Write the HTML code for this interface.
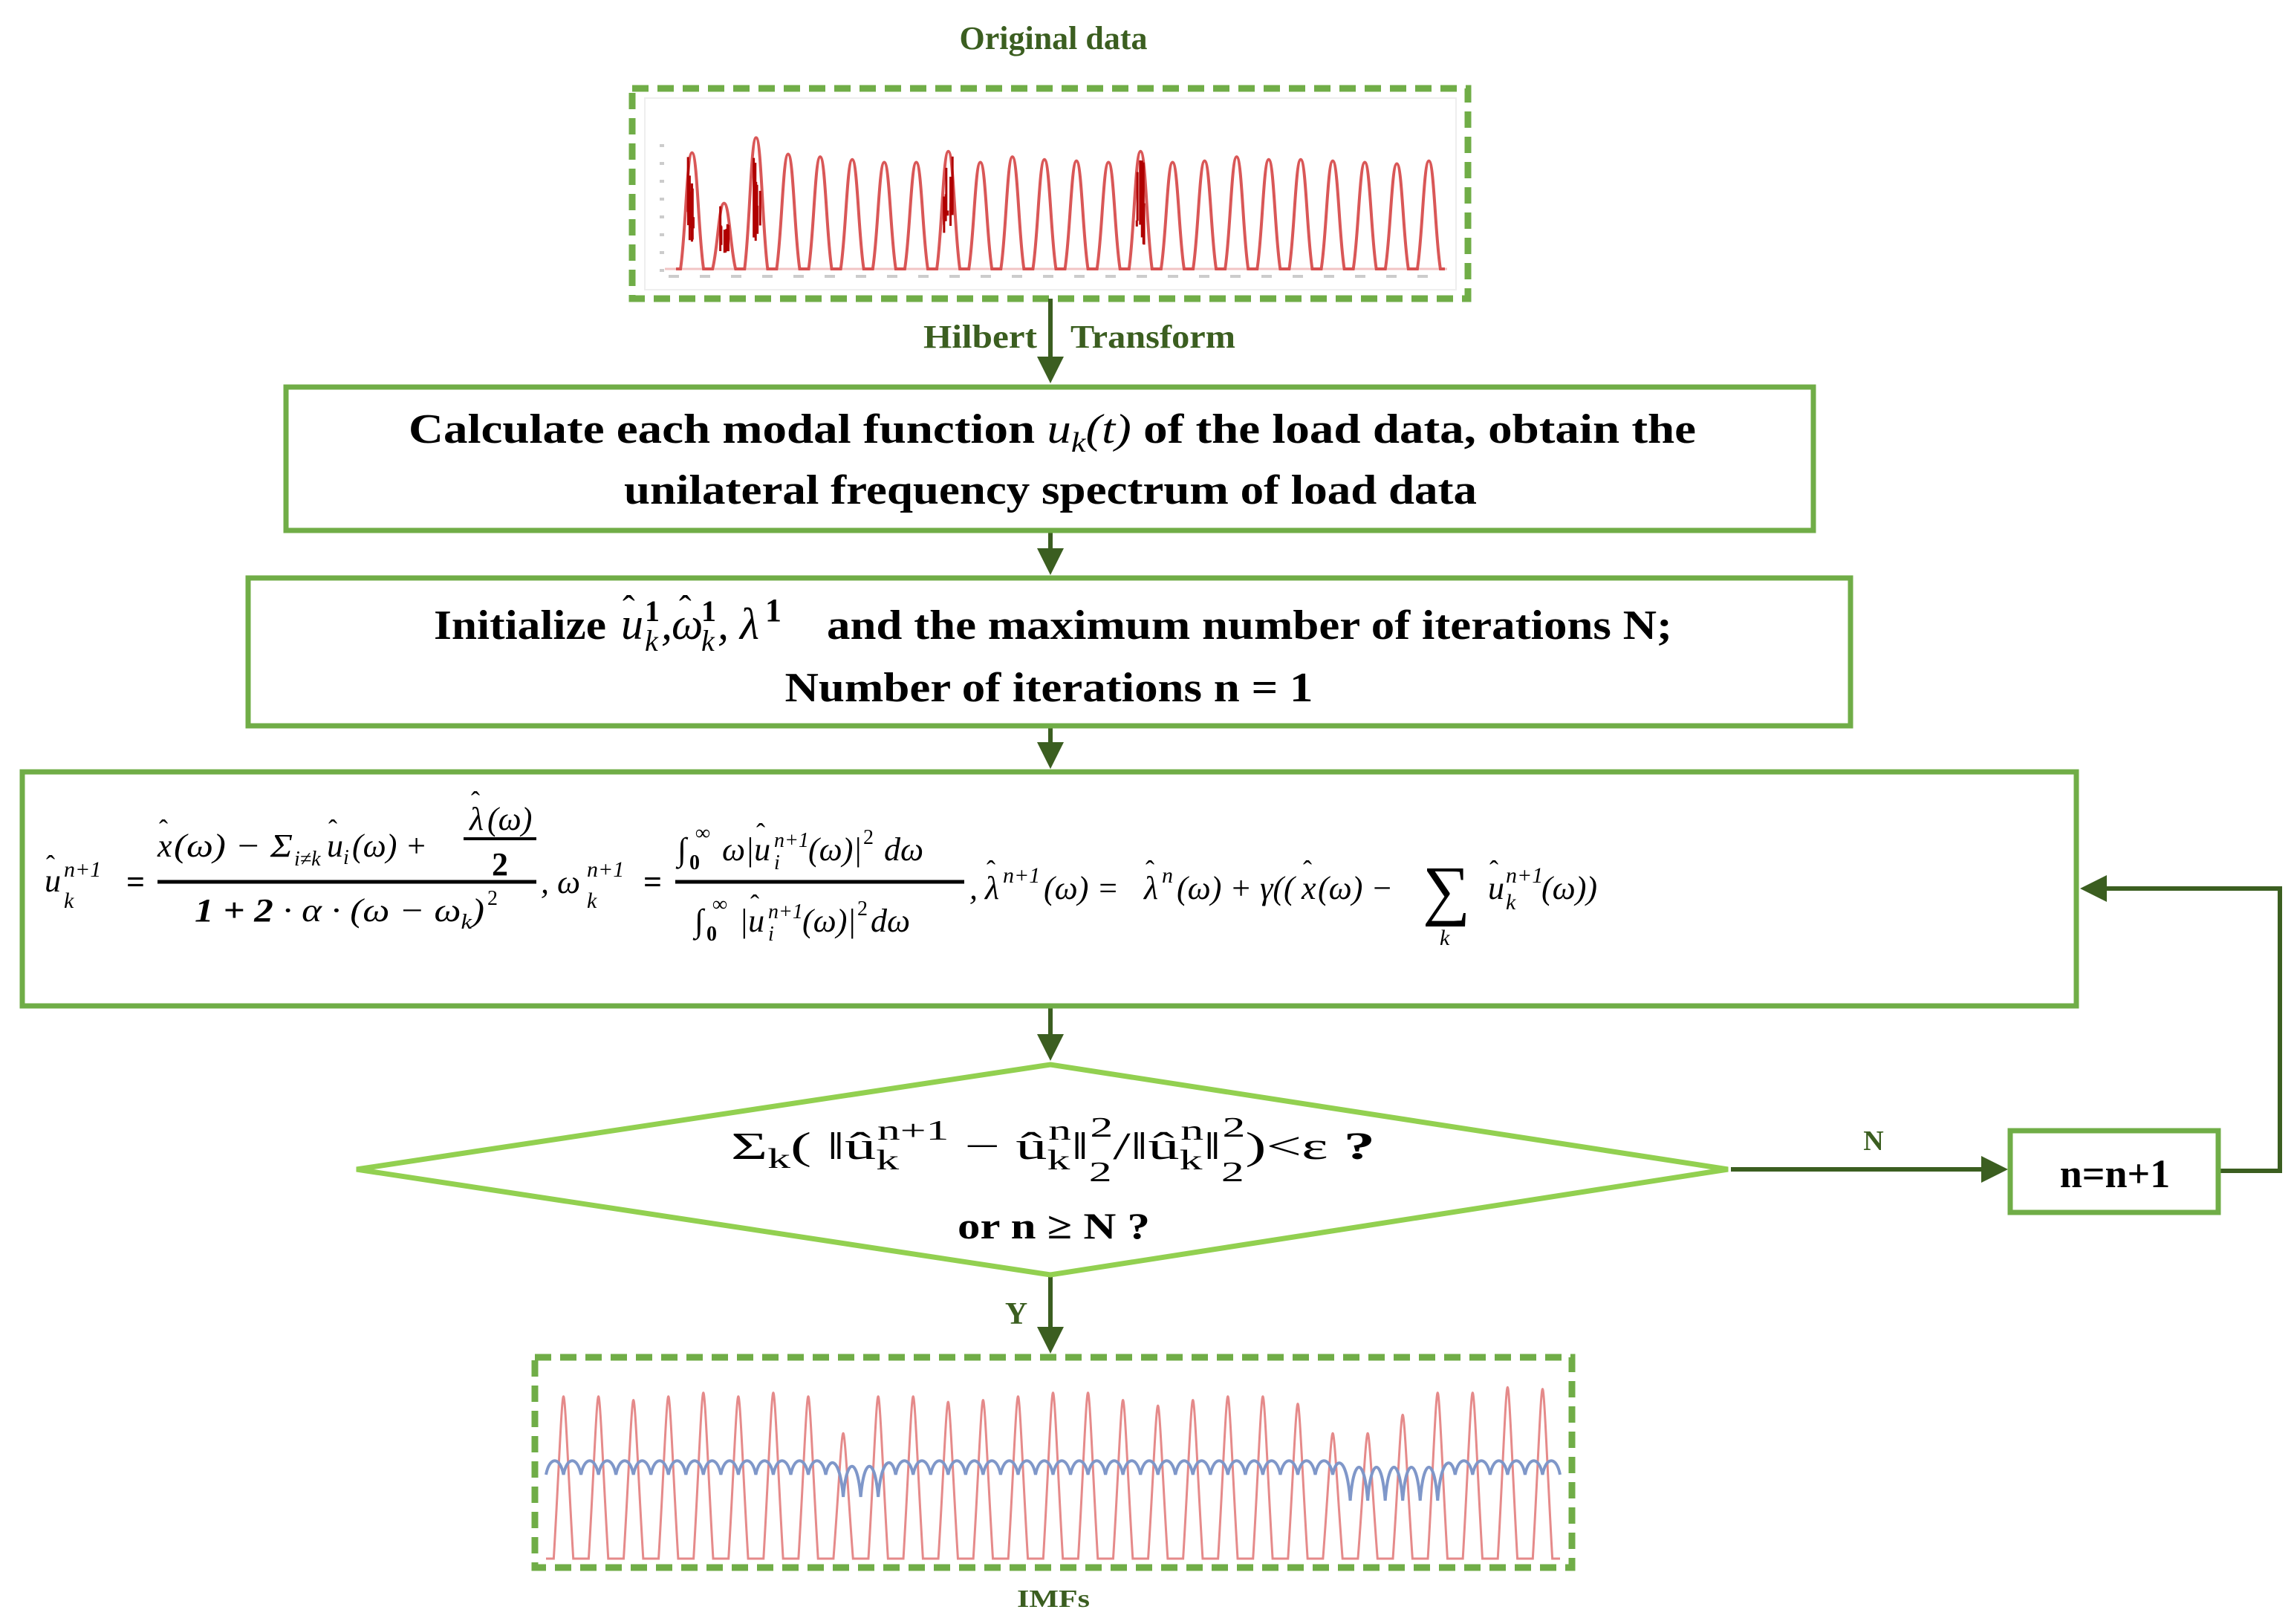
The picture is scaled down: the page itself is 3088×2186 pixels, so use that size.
<!DOCTYPE html>
<html><head><meta charset="utf-8"><style>
html,body{margin:0;padding:0;background:#fff;}
svg{display:block;}
.t{font-family:"Liberation Serif",serif;font-weight:bold;fill:#000;}
.g{font-family:"Liberation Serif",serif;font-weight:bold;fill:#3b5e20;}
.m{font-family:"Liberation Serif",serif;font-style:italic;fill:#000;}
.r{font-family:"Liberation Serif",serif;fill:#000;}
</style></head><body>
<svg id="s" width="3088" height="2186" viewBox="0 0 3088 2186" xmlns="http://www.w3.org/2000/svg">
<defs>
<marker id="a" markerWidth="6" markerHeight="6" refX="5" refY="3" orient="auto" markerUnits="strokeWidth">
<path d="M0,0 L6,3 L0,6 z" fill="#3b5e20"/></marker>
</defs>
<rect width="3088" height="2186" fill="#fff"/>

<text class="g" x="1418" y="66" font-size="44" text-anchor="middle">Original data</text>

<rect x="851" y="119" width="1125" height="283" fill="#fff" stroke="#70ad47" stroke-width="9" stroke-dasharray="22,12"/>
<g id="top"></g>

<g stroke="#3b5e20" stroke-width="6" fill="none">
<line x1="1414" y1="402" x2="1414" y2="510" marker-end="url(#a)"/>
<line x1="1414" y1="715" x2="1414" y2="768" marker-end="url(#a)"/>
<line x1="1414" y1="978" x2="1414" y2="1029" marker-end="url(#a)"/>
<line x1="1414" y1="1356" x2="1414" y2="1422" marker-end="url(#a)"/>
<line x1="1414" y1="1719" x2="1414" y2="1816" marker-end="url(#a)"/>
<line x1="2330" y1="1574" x2="2697" y2="1574" marker-end="url(#a)"/>
<polyline points="2988,1576 3069,1576 3069,1196 2806,1196" marker-end="url(#a)"/>
</g>

<text class="g" x="1243" y="468" font-size="44" textLength="153" lengthAdjust="spacingAndGlyphs">Hilbert</text>
<text class="g" x="1441" y="468" font-size="44" textLength="222" lengthAdjust="spacingAndGlyphs">Transform</text>

<rect x="385" y="521" width="2056" height="193" fill="#fff" stroke="#70ad47" stroke-width="7"/>
<text class="t" x="550" y="596" font-size="56" textLength="1733" lengthAdjust="spacingAndGlyphs">Calculate each modal function <tspan class="m" font-weight="normal">u<tspan font-size="38" dy="12">k</tspan><tspan dy="-12">(t)</tspan></tspan> of the load data, obtain the</text>
<text class="t" x="1414" y="678" font-size="56" text-anchor="middle" textLength="1148" lengthAdjust="spacingAndGlyphs">unilateral frequency spectrum of load data</text>

<rect x="334" y="778" width="2157" height="199" fill="#fff" stroke="#70ad47" stroke-width="7"/>
<text class="t" x="584" y="860" font-size="56" textLength="232" lengthAdjust="spacingAndGlyphs">Initialize</text>
<g font-size="60">
<text class="m" x="836" y="860">u</text><text class="r" x="838" y="836" font-size="50">ˆ</text>
<text class="m" x="868" y="876" font-size="40">k</text><text class="r" x="868" y="836" font-size="40" font-weight="bold">1</text>
<text class="m" x="890" y="860">,</text>
<text class="m" x="904" y="860">ω</text><text class="r" x="914" y="836" font-size="50">ˆ</text>
<text class="m" x="944" y="876" font-size="40">k</text><text class="r" x="944" y="836" font-size="40" font-weight="bold">1</text>
<text class="m" x="966" y="860">, λ</text>
<text class="r" x="1030" y="836" font-size="44" font-weight="bold">1</text>
</g>
<text class="t" x="1113" y="860" font-size="56" textLength="1138" lengthAdjust="spacingAndGlyphs">and the maximum number of iterations N;</text>
<text class="t" x="1412" y="944" font-size="56" text-anchor="middle" textLength="711" lengthAdjust="spacingAndGlyphs">Number of iterations n = 1</text>

<rect x="30" y="1039" width="2765" height="315" fill="#fff" stroke="#70ad47" stroke-width="7"/>
<g font-size="44">
<text class="m" x="60" y="1200">u</text><text class="r" x="62" y="1176" font-size="36">ˆ</text>
<text class="m" x="86" y="1222" font-size="30">k</text>
<text class="m" x="86" y="1180" font-size="30">n<tspan class="r">+1</tspan></text>
<text class="r" x="170" y="1202" font-weight="bold">=</text>
<text class="m" x="212" y="1153">x</text><text class="r" x="214" y="1128" font-size="36">ˆ</text>
<text class="m" x="234" y="1153" textLength="160" lengthAdjust="spacingAndGlyphs">(ω) − Σ</text>
<text class="m" x="396" y="1165" font-size="28">i≠k</text>
<text class="m" x="440" y="1153">u</text><text class="r" x="442" y="1128" font-size="36">ˆ</text>
<text class="m" x="462" y="1163" font-size="28">i</text>
<text class="m" x="474" y="1153">(ω) +</text>
<text class="m" x="632" y="1117">λ</text><text class="r" x="634" y="1090" font-size="36">ˆ</text>
<text class="m" x="656" y="1117">(ω)</text>
<line x1="624" y1="1129" x2="722" y2="1129" stroke="#000" stroke-width="4"/>
<text class="r" x="673" y="1178" font-weight="bold" text-anchor="middle">2</text>
<line x1="212" y1="1187" x2="722" y2="1187" stroke="#000" stroke-width="5"/>
<text class="m" x="262" y="1240" textLength="390" lengthAdjust="spacingAndGlyphs"><tspan class="r" font-weight="bold">1 + 2</tspan> · α · (ω − ω<tspan font-size="28" dy="10">k</tspan><tspan dy="-10">)</tspan></text>
<text class="r" x="656" y="1218" font-size="28">2</text>
<text class="m" x="728" y="1202">, ω</text>
<text class="m" x="790" y="1222" font-size="30">k</text>
<text class="m" x="790" y="1180" font-size="30">n<tspan class="r">+1</tspan></text>
<text class="r" x="866" y="1202" font-weight="bold">=</text>
<text class="m" x="912" y="1158">∫</text>
<text class="r" x="928" y="1170" font-size="28" font-weight="bold">0</text>
<text class="m" x="936" y="1130" font-size="28">∞</text>
<text class="m" x="972" y="1158">ω|u</text><text class="r" x="1018" y="1133" font-size="36">ˆ</text>
<text class="m" x="1042" y="1170" font-size="28">i</text>
<text class="m" x="1042" y="1140" font-size="28">n+1</text>
<text class="m" x="1088" y="1158">(ω)|</text>
<text class="r" x="1162" y="1136" font-size="28">2</text>
<text class="m" x="1190" y="1158">dω</text>
<line x1="909" y1="1187" x2="1298" y2="1187" stroke="#000" stroke-width="5"/>
<text class="m" x="935" y="1254">∫</text>
<text class="r" x="951" y="1266" font-size="28" font-weight="bold">0</text>
<text class="m" x="959" y="1226" font-size="28">∞</text>
<text class="m" x="995" y="1254">|u</text><text class="r" x="1010" y="1229" font-size="36">ˆ</text>
<text class="m" x="1034" y="1266" font-size="28">i</text>
<text class="m" x="1034" y="1236" font-size="28">n+1</text>
<text class="m" x="1080" y="1254">(ω)|</text>
<text class="r" x="1154" y="1232" font-size="28">2</text>
<text class="m" x="1172" y="1254">dω</text>
<text class="m" x="1305" y="1210">,</text>
<text class="m" x="1326" y="1210">λ</text><text class="r" x="1328" y="1183" font-size="36">ˆ</text>
<text class="m" x="1350" y="1188" font-size="30">n+1</text>
<text class="m" x="1405" y="1210">(ω) =</text>
<text class="m" x="1540" y="1210">λ</text><text class="r" x="1542" y="1183" font-size="36">ˆ</text>
<text class="m" x="1564" y="1188" font-size="30">n</text>
<text class="m" x="1584" y="1210">(ω) + γ((</text>
<text class="m" x="1752" y="1210">x</text><text class="r" x="1754" y="1183" font-size="36">ˆ</text>
<text class="m" x="1774" y="1210">(ω) −</text>
<text class="r" x="1915" y="1228" font-size="90">∑</text>
<text class="m" x="1938" y="1272" font-size="30">k</text>
<text class="m" x="2003" y="1210">u</text><text class="r" x="2005" y="1183" font-size="36">ˆ</text>
<text class="m" x="2027" y="1224" font-size="30">k</text>
<text class="m" x="2027" y="1188" font-size="30">n<tspan class="r">+1</tspan></text>
<text class="m" x="2075" y="1210">(ω))</text>
</g>

<polygon points="480,1574 1414,1433 2326,1574 1414,1716" fill="#fff" stroke="#92d050" stroke-width="7"/>
<text class="r" x="984" y="1560" font-size="52" textLength="867" lengthAdjust="spacingAndGlyphs">Σ<tspan font-size="38" dy="12">k</tspan><tspan dy="-12">( ‖û</tspan><tspan font-size="38" dy="14">k</tspan><tspan font-size="38" dx="-18" dy="-40">n+1</tspan><tspan dy="26"> − û</tspan><tspan font-size="38" dy="14">k</tspan><tspan font-size="38" dx="-18" dy="-40">n</tspan><tspan dy="26">‖</tspan><tspan font-size="38" dy="30">2</tspan><tspan font-size="38" dx="-18" dy="-60">2</tspan><tspan dy="30">/‖û</tspan><tspan font-size="38" dy="14">k</tspan><tspan font-size="38" dx="-18" dy="-40">n</tspan><tspan dy="26">‖</tspan><tspan font-size="38" dy="30">2</tspan><tspan font-size="38" dx="-18" dy="-60">2</tspan><tspan dy="30">)&lt;ε </tspan><tspan font-weight="bold">?</tspan></text>
<text class="t" x="1289" y="1667" font-size="50" textLength="259" lengthAdjust="spacingAndGlyphs">or n ≥ N  ?</text>

<text class="g" x="2522" y="1548" font-size="38" text-anchor="middle">N</text>
<text class="g" x="1368" y="1782" font-size="42" text-anchor="middle">Y</text>

<rect x="2706" y="1522" width="280" height="110" fill="#fff" stroke="#70ad47" stroke-width="7"/>
<text class="t" x="2847" y="1598" font-size="54" text-anchor="middle">n=n+1</text>

<rect x="720" y="1827" width="1396" height="283" fill="#fff" stroke="#70ad47" stroke-width="9" stroke-dasharray="22,12"/>
<g id="bot"></g>
<text class="g" x="1418" y="2163" font-size="34" text-anchor="middle" textLength="98" lengthAdjust="spacingAndGlyphs">IMFs</text>
</svg>
<script>
(function(){
var NS="http://www.w3.org/2000/svg";
var seed=7;function rnd(){seed=(seed*9301+49297)%233280;return seed/233280;}
function add(g,tag,attrs){var e=document.createElementNS(NS,tag);for(var k in attrs)e.setAttribute(k,attrs[k]);document.getElementById(g).appendChild(e);return e;}
add("top","rect",{x:868,y:132,width:1092,height:258,fill:"#fff",stroke:"#eee","stroke-width":2});
add("top","line",{x1:895,y1:362,x2:1948,y2:362,stroke:"#f2c4c4","stroke-width":3});
var heights=[0.85,0.48,0.96,0.84,0.82,0.8,0.78,0.78,0.86,0.78,0.82,0.8,0.79,0.78,0.86,0.78,0.79,0.82,0.8,0.8,0.79,0.78,0.77,0.79];
var x0=910,x1=1945,n=heights.length,step=(x1-x0)/n,base=362,top=178;
var d="";
for(var i=0;i<n;i++){var cx=x0+step*(i+0.5);var h=(base-top)*heights[i];var w=step*0.36;
 d+="M"+(cx-step/2)+","+base+" L"+(cx-w)+","+base+" C"+(cx-w*0.55)+","+(base-h*0.3)+" "+(cx-w*0.45)+","+(base-h)+" "+cx+","+(base-h)+" C"+(cx+w*0.45)+","+(base-h)+" "+(cx+w*0.55)+","+(base-h*0.3)+" "+(cx+w)+","+base+" L"+(cx+step/2)+","+base+" ";}
add("top","path",{d:d,fill:"none",stroke:"#d23a3a","stroke-width":4,opacity:0.85});
[0,1,2,8,14].forEach(function(p){var cx=x0+step*(p+0.5);var h=(base-top)*heights[p];
 var s="";for(var k=0;k<8;k++){var xx=cx-6+rnd()*12;s+="M"+xx+","+(base-h*(0.4+rnd()*0.6))+" L"+xx+","+(base-h*(0.2+rnd()*0.3))+" ";}
 add("top","path",{d:s,stroke:"#b00000","stroke-width":3});});
for(var i=0;i<25;i++){add("top","rect",{x:900+i*42,y:370,width:14,height:4,fill:"#ccc"});}
for(var j=0;j<8;j++){add("top","rect",{x:888,y:362-j*24,width:6,height:4,fill:"#ccc"});}
var bb=2098,bt=1850,bx0=735,bx1=2100,bn=29,bs=(bx1-bx0)/bn;
var bh=[0.8,0.8,0.78,0.8,0.82,0.8,0.82,0.8,0.6,0.8,0.8,0.77,0.78,0.8,0.82,0.82,0.78,0.75,0.78,0.8,0.8,0.76,0.6,0.6,0.7,0.82,0.82,0.85,0.84];
var rd="",bd="";
for(var i=0;i<bn;i++){var cx=bx0+bs*(i+0.5);var h=(bb-bt)*bh[i]+20;var w=bs*0.28;
 rd+="M"+(cx-bs/2)+","+bb+" L"+(cx-w)+","+bb+" C"+(cx-w*0.5)+","+(bb-h*0.5)+" "+(cx-w*0.2)+","+(bb-h)+" "+cx+","+(bb-h)+" C"+(cx+w*0.2)+","+(bb-h)+" "+(cx+w*0.5)+","+(bb-h*0.5)+" "+(cx+w)+","+bb+" L"+(cx+bs/2)+","+bb+" ";
}
add("bot","path",{d:rd,fill:"none",stroke:"#e58a8a","stroke-width":3});
var y0=1985;bd="M"+bx0+","+y0;
for(var i=0;i<bn*2;i++){var xa=bx0+bs/2*i,xb=xa+bs/2;var dip=(i>15&&i<19)?30:((i>44&&i<51)?35:0);
 bd+=" C"+(xa+bs*0.1)+","+(y0-25)+" "+(xb-bs*0.1)+","+(y0-25)+" "+xb+","+(y0+dip);}
add("bot","path",{d:bd,fill:"none",stroke:"#7f97c9","stroke-width":4});
})();
</script>
</body></html>
